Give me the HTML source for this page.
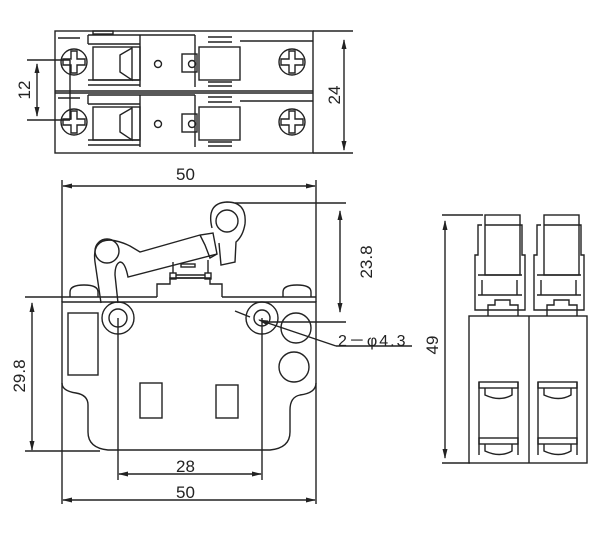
<!DOCTYPE html>
<html><head><meta charset="utf-8"><style>
html,body{margin:0;padding:0;background:#fff;}
svg{display:block;}
text{font-family:"Liberation Sans",sans-serif;fill:#222;}
</style></head><body>
<svg width="600" height="533" viewBox="0 0 600 533" xmlns="http://www.w3.org/2000/svg">
<defs>
<marker id="a" markerWidth="10" markerHeight="8" refX="9" refY="4" orient="auto" markerUnits="userSpaceOnUse">
<path d="M0,1.5 L10,4 L0,6.5 Z" fill="#222"/></marker>
</defs>
<g fill="none" stroke="#222" stroke-width="1.4">
<!-- TOP VIEW -->
<rect x="55" y="31" width="258" height="122"/>
<line x1="55" y1="91" x2="313" y2="91"/>
<line x1="55" y1="93" x2="313" y2="93"/>
<line x1="313" y1="31" x2="353" y2="31"/>
<line x1="313" y1="153" x2="353" y2="153"/>
<line x1="344" y1="95" x2="344" y2="40" marker-end="url(#a)"/>
<line x1="344" y1="95" x2="344" y2="150" marker-end="url(#a)"/>
<line x1="27" y1="60" x2="70" y2="60"/>
<line x1="27" y1="120" x2="70" y2="120"/>
<line x1="70" y1="60" x2="70" y2="120"/>
<line x1="37" y1="90" x2="37" y2="64" marker-end="url(#a)"/>
<line x1="37" y1="90" x2="37" y2="116" marker-end="url(#a)"/>
<g id="unit">
<line x1="58" y1="38" x2="80" y2="38"/>
<line x1="88" y1="35" x2="140" y2="35"/><line x1="88" y1="44" x2="140" y2="44"/>
<line x1="88" y1="35" x2="88" y2="44"/>
<rect x="93" y="47" width="47" height="33"/>
<path d="M120,55 L132,48 L132,80 L120,72 Z"/>
<line x1="88" y1="80" x2="140" y2="80"/><line x1="88" y1="85" x2="140" y2="85"/>
<line x1="140" y1="35" x2="140" y2="87"/>
<line x1="140" y1="35" x2="195" y2="35"/>
<line x1="195" y1="35" x2="195" y2="87"/>
<circle cx="158" cy="64" r="3.5"/>
<rect x="182" y="54" width="15" height="18"/>
<circle cx="192" cy="64" r="3.5"/>
<rect x="199" y="47" width="41" height="33"/>
<line x1="208" y1="37" x2="232" y2="37"/><line x1="208" y1="42" x2="232" y2="42"/>
<line x1="208" y1="82" x2="232" y2="82"/><line x1="208" y1="86" x2="232" y2="86"/>
<line x1="240" y1="41" x2="313" y2="41"/>
<circle cx="74" cy="62" r="13"/>
<path d="M71,51 h6 v8 h8 v6 h-8 v8 h-6 v-8 h-8 v-6 h8 z"/>
<circle cx="292" cy="62" r="13"/>
<path d="M289,51 h6 v8 h8 v6 h-8 v8 h-6 v-8 h-8 v-6 h8 z"/>
</g>
<use href="#unit" y="60"/>
<rect x="93" y="31" width="20" height="3"/>

<!-- FRONT VIEW -->
<line x1="62" y1="180" x2="62" y2="302"/>
<line x1="316" y1="180" x2="316" y2="302"/>
<line x1="186" y1="186" x2="63" y2="186" marker-end="url(#a)"/>
<line x1="186" y1="186" x2="315" y2="186" marker-end="url(#a)"/>
<path d="M62,302 H316 V383 Q316,393 300,395 Q290,397 290,410 V432 Q290,448 270,450 H108 Q88,448 88,432 V405 Q88,395 76,393 Q62,391 62,383 Z"/>
<line x1="25" y1="297" x2="157" y2="297"/>
<line x1="222" y1="297" x2="316" y2="297"/>
<path d="M157,297 V284 H170 V278 H210 V284 H222 V297"/>
<rect x="170" y="273" width="6" height="6"/><rect x="205" y="273" width="6" height="6"/>
<line x1="176" y1="275" x2="205" y2="275"/><line x1="176" y1="278" x2="205" y2="278"/>
<line x1="173" y1="273" x2="173" y2="262"/><line x1="208" y1="273" x2="208" y2="260"/>
<rect x="181" y="264" width="14" height="3"/>
<path d="M70,297 V292 Q70,285 84,285 Q98,285 98,292 V297"/>
<path d="M283,297 V292 Q283,285 297,285 Q311,285 311,292 V297"/>
<!-- lever -->
<circle cx="107" cy="251" r="12"/>
<path d="M101,303 L95,262 Q92,240 110,240 Q120,241 130,246 L140,252 L200,235 L213,233 L217,254 L128,277 Q125,262 120,262 Q115,264 115,275 L118,303"/>
<path d="M200,235 L205,245 L210,258 L217,254"/>
<path d="M212,228 Q206,203 227,202 Q247,202 245,224 Q243,236 236,242 L235,262 L221,265 L219,243"/>
<circle cx="227" cy="221" r="11"/>
<line x1="235" y1="203" x2="346" y2="203"/>
<line x1="340" y1="255" x2="340" y2="211" marker-end="url(#a)"/>
<line x1="340" y1="255" x2="340" y2="312" marker-end="url(#a)"/>
<!-- holes -->
<circle cx="118" cy="318" r="16"/><circle cx="118" cy="318" r="9"/>
<circle cx="262" cy="318" r="16"/><circle cx="262" cy="318" r="8"/>
<circle cx="296" cy="328" r="15"/><circle cx="294" cy="367" r="15"/>
<line x1="262" y1="322" x2="346" y2="322"/>
<rect x="68" y="313" width="30" height="62"/>
<rect x="140" y="383" width="22" height="35"/>
<rect x="216" y="385" width="22" height="33"/>
<line x1="235" y1="311" x2="250" y2="317"/>
<line x1="412" y1="346" x2="336" y2="346"/>
<line x1="336" y1="346" x2="259" y2="320" marker-end="url(#a)"/>
<line x1="25" y1="451" x2="100" y2="451"/>
<line x1="32" y1="376" x2="32" y2="303" marker-end="url(#a)"/>
<line x1="32" y1="376" x2="32" y2="450" marker-end="url(#a)"/>
<line x1="118" y1="318" x2="118" y2="480"/>
<line x1="262" y1="318" x2="262" y2="480"/>
<line x1="190" y1="474" x2="119" y2="474" marker-end="url(#a)"/>
<line x1="190" y1="474" x2="261" y2="474" marker-end="url(#a)"/>
<line x1="62" y1="383" x2="62" y2="504"/>
<line x1="316" y1="383" x2="316" y2="504"/>
<line x1="190" y1="500" x2="63" y2="500" marker-end="url(#a)"/>
<line x1="190" y1="500" x2="315" y2="500" marker-end="url(#a)"/>

<!-- SIDE VIEW -->
<rect x="469" y="316" width="118" height="147"/>
<line x1="529" y1="316" x2="529" y2="463"/>
<line x1="442" y1="215" x2="483" y2="215"/>
<line x1="442" y1="463" x2="470" y2="463"/>
<line x1="445" y1="340" x2="445" y2="221" marker-end="url(#a)"/>
<line x1="445" y1="340" x2="445" y2="458" marker-end="url(#a)"/>
<g id="side">
<rect x="485" y="215" width="35" height="60"/>
<line x1="485" y1="225" x2="520" y2="225"/>
<path d="M482,225 H478 V255 H475 V310 H525 V255 H522 V225 H520"/>
<line x1="478" y1="275" x2="522" y2="275"/>
<line x1="478" y1="295" x2="522" y2="295"/>
<path d="M488,316 V305 H495 V300 H510 V305 H518 V316"/>
<line x1="482" y1="280" x2="482" y2="295"/><line x1="517" y1="280" x2="517" y2="295"/>
<rect x="479" y="382" width="39" height="6"/>
<path d="M485,388 V395 Q500,402 512,395 V388"/>
<line x1="479" y1="382" x2="479" y2="455"/><line x1="518" y1="382" x2="518" y2="455"/>
<rect x="479" y="438" width="39" height="6"/>
<path d="M485,444 V451 Q500,458 512,451 V444"/>
</g>
<use href="#side" x="59"/>
</g>
<g font-size="17">
<text x="176" y="180">50</text>
<text x="176" y="498">50</text>
<text x="176" y="472">28</text>
<text x="338" y="346" font-size="16" letter-spacing="2">2－φ4.3</text>
<text transform="translate(340,95) rotate(-90)" text-anchor="middle">24</text>
<text transform="translate(30,90) rotate(-90)" text-anchor="middle">12</text>
<text transform="translate(372,262) rotate(-90)" text-anchor="middle">23.8</text>
<text transform="translate(25,376) rotate(-90)" text-anchor="middle">29.8</text>
<text transform="translate(438,345) rotate(-90)" text-anchor="middle">49</text>
</g>
</svg>
</body></html>
